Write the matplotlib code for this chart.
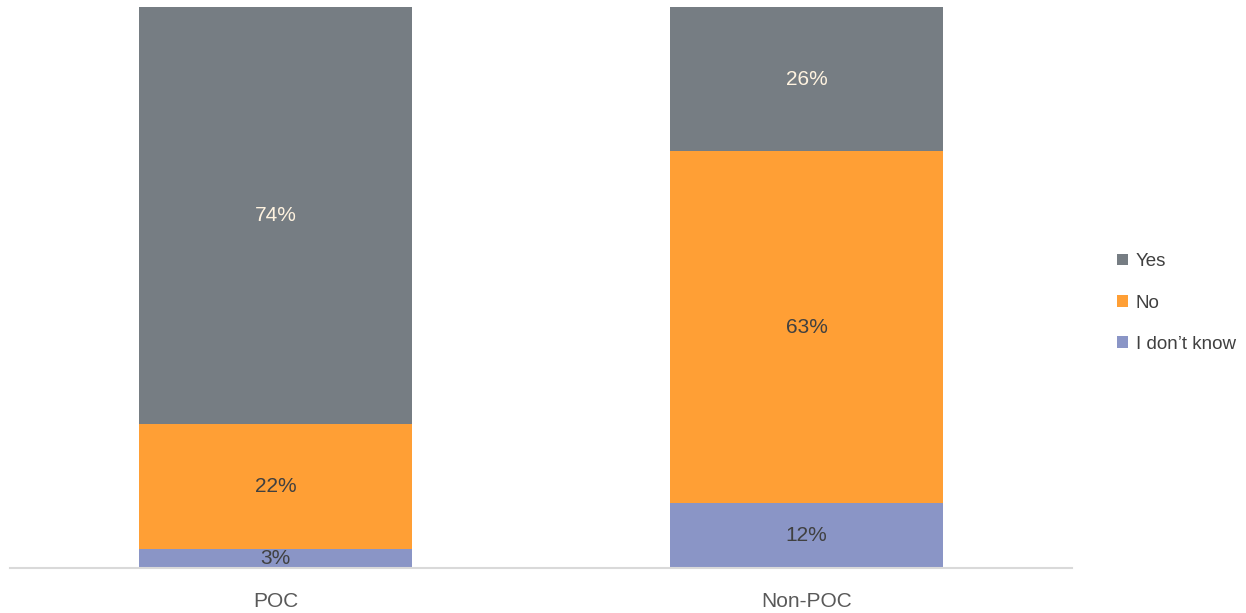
import matplotlib.pyplot as plt
import numpy as np

plt.rcParams['font.family'] = ['Liberation Sans Narrow', 'Liberation Sans', 'DejaVu Sans']

categories = ['POC', 'Non-POC']
series = ['Yes', 'No', 'I don\u2019t know']
yes = [0.743, 0.257]
no = [0.224, 0.627]
dont_know = [0.033, 0.116]

colors = {'Yes': '#767D83', 'No': '#FF9F35', 'I don\u2019t know': '#8A95C6'}
label_colors = {'Yes': '#FFF3E0', 'No': '#404040', 'I don\u2019t know': '#404040'}

fig = plt.figure(figsize=(12.46, 6.13), dpi=100)
ax = fig.add_axes([10 / 1246, 45 / 613, 1062 / 1246, 561 / 613])

x = np.arange(len(categories))
bottom = np.zeros(len(categories))
handles = []
# stack from bottom: I don't know, No, Yes
for name, vals in [('I don\u2019t know', dont_know), ('No', no), ('Yes', yes)]:
    vals = np.array(vals)
    b = ax.bar(x, vals, 0.514, bottom=bottom, color=colors[name], label=name)
    handles.append(b)
    for xi, v, bt in zip(x, vals, bottom):
        ax.text(xi, bt + v / 2, f'{v:.0%}', ha='center', va='center',
                fontsize=15, color=label_colors[name])
    bottom += vals

ax.set_xlim(-0.5, 1.5)
ax.set_ylim(0, 1.0)
ax.set_xticks(x)
ax.set_xticklabels(categories, fontsize=15, color='#595959')
ax.tick_params(axis='x', length=0, pad=17)
ax.set_yticks([])
for side in ['top', 'right', 'left']:
    ax.spines[side].set_visible(False)
ax.spines['bottom'].set_color('#D9D9D9')
ax.spines['bottom'].set_linewidth(1.5)

# legend centred around y=303 px from the top
fig.legend(handles[::-1], [h.get_label() for h in handles[::-1]],
           loc='center left', bbox_to_anchor=(1100 / 1246, (613 - 303) / 613),
           frameon=False, fontsize=13.5, handlelength=0.6, handleheight=0.6,
           handletextpad=0.4, labelspacing=1.3, labelcolor='#404040')

fig.savefig('out.png', dpi=100)
